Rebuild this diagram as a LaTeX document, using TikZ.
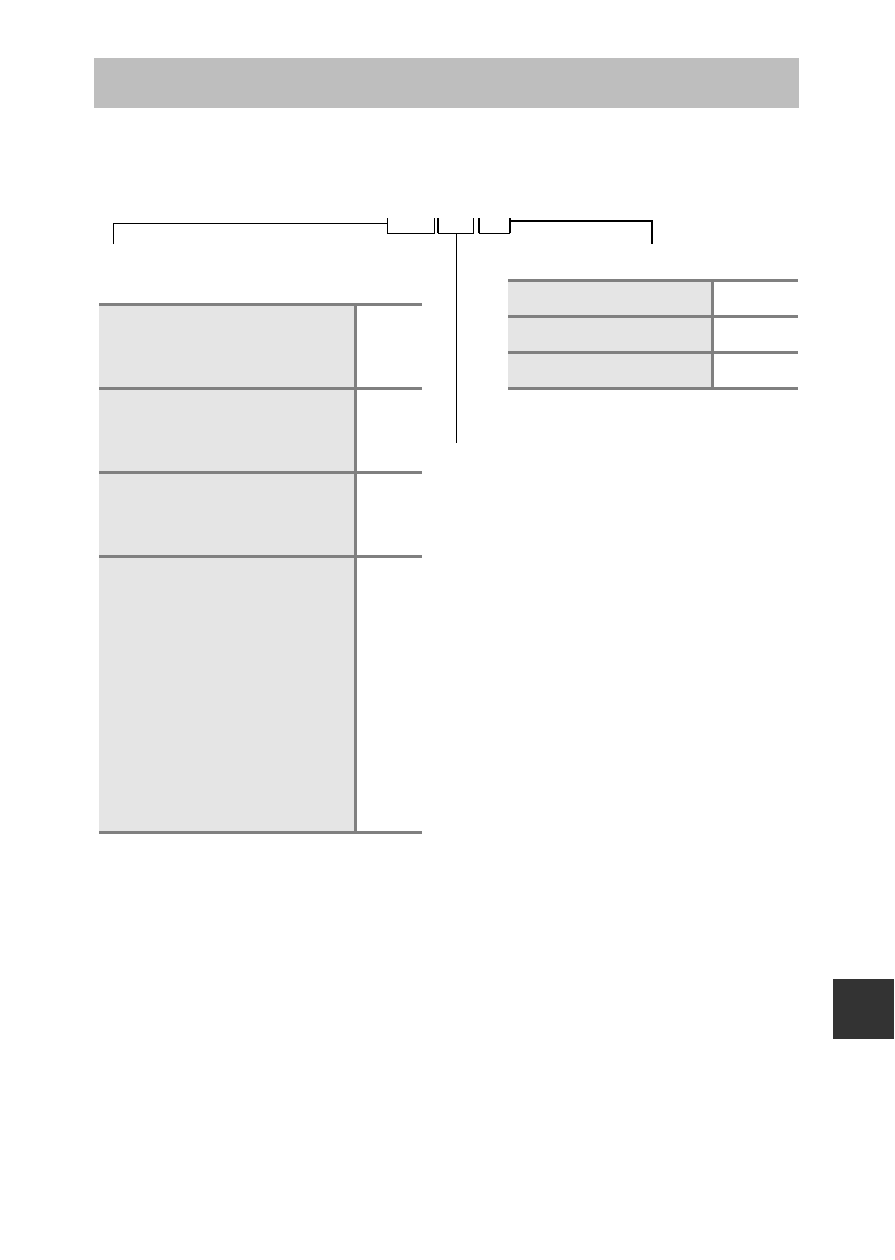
\documentclass[tikz,border=0pt]{standalone}
\usepackage{xcolor}
\usepackage{tikz}
\usetikzlibrary{positioning, calc}
\definecolor{bargray}{HTML}{BEBEBE}
\definecolor{cellgray}{HTML}{E5E5E5}
\definecolor{rulegray}{HTML}{808080}
\definecolor{tabdark}{HTML}{333333}

\begin{document}
\begin{tikzpicture}[
    x=1pt, y=-1pt,
    headbar/.style={fill=bargray, inner sep=0pt, anchor=north west, minimum width=705pt, minimum height=50pt},
    graycell/.style={fill=cellgray, inner sep=0pt, anchor=north west},
    whitecell/.style={fill=white, inner sep=0pt, anchor=north west},
    hrule/.style={draw=rulegray, line width=3pt},
    vrule/.style={draw=rulegray, line width=2.4pt},
    thinline/.style={draw=black, line width=1pt},
    thickline/.style={draw=black, line width=2pt}
]
\useasboundingbox (0,0) rectangle (894,1260);

% === HEADER BAR ===
\node[headbar] (head) at (94,58) {};

% === LEFT TABLE ===
\node[graycell, minimum width=256pt, minimum height=84pt] (l1) at (99,304) {};
\node[graycell, minimum width=256pt, minimum height=84pt] (l2) at (99,388) {};
\node[graycell, minimum width=256pt, minimum height=84pt] (l3) at (99,472) {};
\node[graycell, minimum width=256pt, minimum height=276pt] (l4) at (99,556) {};
\node[whitecell, minimum width=67pt, minimum height=84pt] (w1) at (355,304) {};
\node[whitecell, minimum width=67pt, minimum height=84pt] (w2) at (355,388) {};
\node[whitecell, minimum width=67pt, minimum height=84pt] (w3) at (355,472) {};
\node[whitecell, minimum width=67pt, minimum height=276pt] (w4) at (355,556) {};

\foreach \row in {1,2,3,4} {
    \draw[hrule] (l\row.north west) -- (w\row.north east);
}
\draw[hrule] (l4.south west) -- (w4.south east);
\draw[vrule] (l1.north east) -- (l4.south east);

% === RIGHT TABLE ===
\node[graycell, minimum width=204pt, minimum height=36pt] (r1) at (508,280) {};
\node[graycell, minimum width=204pt, minimum height=36pt] (r2) at (508,316) {};
\node[graycell, minimum width=204pt, minimum height=36pt] (r3) at (508,352) {};
\node[whitecell, minimum width=86pt, minimum height=36pt] (s1) at (712,280) {};
\node[whitecell, minimum width=86pt, minimum height=36pt] (s2) at (712,316) {};
\node[whitecell, minimum width=86pt, minimum height=36pt] (s3) at (712,352) {};

\foreach \row in {1,2,3} {
    \draw[hrule] (r\row.north west) -- (s\row.north east);
}
\draw[hrule] (r3.south west) -- (s3.south east);
\draw[vrule] (r1.north east) -- (r3.south east);

% === BRACKETS ===
\coordinate (legl) at (113,244);
\coordinate (ja) at (387,223.5);
\coordinate (a1) at (387,218);
\coordinate (a2) at (434,233);
\coordinate (b1) at (438,218);
\coordinate (b2) at (473.5,233);
\coordinate (c1) at (478.5,218);
\coordinate (c2) at (510,233);
\coordinate (jc) at (510,221);
\coordinate (legr) at (652,244);
\coordinate (stem) at (456,443);

\draw[thinline] (legl) |- (ja);
\draw[thinline] (a1) |- (a2) -- (a2 |- a1);
\draw[thinline] (b1 |- b2) -- (b2) -- (b2 |- b1);
\draw[thickline] (b1) -- (b1 |- b2);
\draw[thinline] (c1 |- c2) -- (c2);
\draw[thickline] (c1) -- (c1 |- c2);
\draw[thickline] (c2) -- (c2 |- c1);
\draw[thickline] (jc) -| (legr);
\draw[thinline] (stem |- b2) -- (stem);

% === SIDE TAB ===
\node[fill=tabdark, inner sep=0pt, anchor=north west, minimum width=61pt, minimum height=60pt] (tab) at (833,979) {};

\end{tikzpicture}
\end{document}
